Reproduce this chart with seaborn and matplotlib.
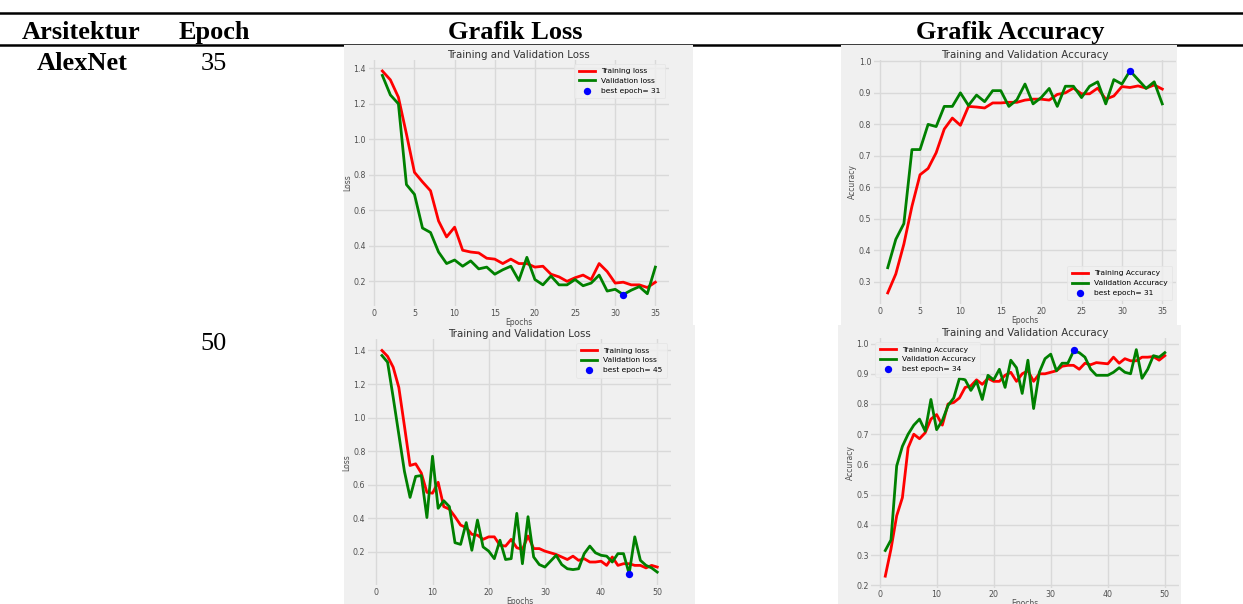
import matplotlib
matplotlib.use("Agg")
import matplotlib.pyplot as plt
import seaborn as sb
from matplotlib.patches import Rectangle
from matplotlib.lines import Line2D

# data
epochs35 = list(range(1, 36))
tr_loss35 = [1.385, 1.335, 1.237, 1.03, 0.814, 0.76, 0.71, 0.54, 0.45, 0.505,
             0.375, 0.365, 0.36, 0.33, 0.325, 0.30, 0.325, 0.30, 0.30, 0.28,
             0.285, 0.24, 0.225, 0.20, 0.22, 0.235, 0.21, 0.30, 0.255, 0.19,
             0.195, 0.18, 0.18, 0.165, 0.195]
val_loss35 = [1.36, 1.25, 1.20, 0.745, 0.69, 0.50, 0.475, 0.365, 0.30, 0.32,
              0.285, 0.315, 0.27, 0.28, 0.24, 0.265, 0.285, 0.205, 0.335, 0.21,
              0.18, 0.23, 0.18, 0.18, 0.21, 0.175, 0.19, 0.235, 0.145, 0.155,
              0.125, 0.15, 0.17, 0.13, 0.28]
tr_acc35 = [0.265, 0.325, 0.42, 0.54, 0.64, 0.66, 0.71, 0.785, 0.82, 0.797,
            0.857, 0.855, 0.852, 0.868, 0.868, 0.87, 0.87, 0.877, 0.88, 0.88,
            0.877, 0.895, 0.90, 0.915, 0.897, 0.897, 0.915, 0.88, 0.89, 0.92,
            0.917, 0.922, 0.915, 0.925, 0.912]
val_acc35 = [0.345, 0.435, 0.485, 0.72, 0.72, 0.80, 0.793, 0.857, 0.857, 0.90,
             0.86, 0.893, 0.872, 0.907, 0.907, 0.857, 0.878, 0.928, 0.865, 0.885,
             0.914, 0.857, 0.921, 0.921, 0.885, 0.921, 0.935, 0.865, 0.942, 0.928,
             0.97, 0.942, 0.914, 0.935, 0.865]

epochs50 = list(range(1, 51))
tr_loss50 = [1.40, 1.365, 1.30, 1.18, 0.95, 0.715, 0.725, 0.67, 0.555, 0.55,
             0.615, 0.47, 0.455, 0.41, 0.36, 0.345, 0.305, 0.30, 0.275, 0.29,
             0.29, 0.24, 0.235, 0.275, 0.225, 0.215, 0.295, 0.22, 0.22, 0.205,
             0.195, 0.185, 0.17, 0.155, 0.175, 0.15, 0.16, 0.14, 0.14, 0.145,
             0.12, 0.17, 0.12, 0.13, 0.13, 0.12, 0.12, 0.105, 0.12, 0.11]
val_loss50 = [1.37, 1.33, 1.12, 0.90, 0.68, 0.525, 0.65, 0.655, 0.405, 0.77,
              0.46, 0.505, 0.47, 0.255, 0.245, 0.375, 0.21, 0.39, 0.23, 0.205,
              0.16, 0.27, 0.155, 0.16, 0.43, 0.13, 0.41, 0.17, 0.125, 0.11,
              0.145, 0.18, 0.125, 0.10, 0.095, 0.10, 0.19, 0.235, 0.195, 0.18,
              0.175, 0.14, 0.19, 0.19, 0.07, 0.29, 0.15, 0.12, 0.105, 0.08]
tr_acc50 = [0.23, 0.32, 0.43, 0.49, 0.655, 0.70, 0.685, 0.705, 0.75, 0.765,
            0.73, 0.80, 0.805, 0.82, 0.855, 0.86, 0.88, 0.865, 0.885, 0.875,
            0.875, 0.895, 0.905, 0.875, 0.90, 0.91, 0.875, 0.90, 0.90, 0.905,
            0.91, 0.925, 0.928, 0.928, 0.915, 0.935, 0.93, 0.937, 0.935, 0.933,
            0.955, 0.935, 0.95, 0.943, 0.943, 0.955, 0.955, 0.957, 0.945, 0.96]
val_acc50 = [0.315, 0.35, 0.595, 0.66, 0.70, 0.73, 0.75, 0.71, 0.815, 0.715,
             0.745, 0.795, 0.82, 0.885, 0.88, 0.845, 0.875, 0.815, 0.895, 0.88,
             0.915, 0.855, 0.945, 0.92, 0.835, 0.945, 0.785, 0.905, 0.95, 0.965,
             0.91, 0.935, 0.935, 0.975, 0.97, 0.955, 0.915, 0.895, 0.895, 0.895,
             0.905, 0.92, 0.905, 0.90, 0.98, 0.885, 0.915, 0.96, 0.955, 0.97]

best_loss35 = (31, 0.125)
best_acc35 = (31, 0.97)
best_loss50 = (45, 0.068)
best_acc50 = (34, 0.978)

header = ["Arsitektur", "Epoch", "Grafik Loss", "Grafik Accuracy"]
arsitektur = "AlexNet"
epoch_rows = ["35", "50"]

W, H = 1243, 604
fig = plt.figure(figsize=(W / 100, H / 100), dpi=100, facecolor="white")

def fx(x):
    return x / W

def fy(y):
    return 1 - y / H

# garis tabel
fig.add_artist(Line2D([0, 1], [fy(13), fy(13)], color="black", lw=1.8, zorder=1))
fig.add_artist(Line2D([0, 1], [fy(44.5), fy(44.5)], color="black", lw=1.8, zorder=1))

serif = "Liberation Serif"
for txt, cx in zip(header, [81, 214, 515, 1010]):
    fig.text(fx(cx), fy(39), txt, ha="center", va="baseline", family=serif,
             weight="bold", fontsize=19)
fig.text(fx(82), fy(70), arsitektur, ha="center", va="baseline", family=serif,
         weight="bold", fontsize=19)
fig.text(fx(214), fy(70), epoch_rows[0], ha="center", va="baseline", family=serif, fontsize=19)
fig.text(fx(214), fy(350), epoch_rows[1], ha="center", va="baseline", family=serif, fontsize=19)

# panel abu-abu (gambar grafik)
for x0, x1, y0, y1 in [(344, 693, 45, 325), (841, 1177, 45, 325),
                       (344, 695, 325, 604), (838, 1181, 325, 604)]:
    fig.patches.append(Rectangle((fx(x0), fy(y1)), fx(x1 - x0), (y1 - y0) / H,
                                 transform=fig.transFigure, facecolor="#f0f0f0",
                                 edgecolor="none", zorder=2))

def axes_px(left, right, top, bottom):
    return fig.add_axes([fx(left), fy(bottom), fx(right - left), (bottom - top) / H], zorder=3)

def grafik(ax, ep, tr, val, best, kind, legend_loc, xticks, yticks):
    ax.set_facecolor("#f0f0f0")
    if kind == "loss":
        lab_tr, lab_val, title, ylab = "Training loss", "Validation loss", "Training and Validation Loss", "Loss"
    else:
        lab_tr, lab_val, title, ylab = "Training Accuracy", "Validation Accuracy", "Training and Validation Accuracy", "Accuracy"
    sb.lineplot(x=ep, y=tr, color="red", linewidth=2, label=lab_tr, ax=ax)
    sb.lineplot(x=ep, y=val, color="green", linewidth=2, label=lab_val, ax=ax)
    sb.scatterplot(x=[best[0]], y=[best[1]], color="blue", s=28, linewidth=0,
                   label="best epoch= %d" % best[0], ax=ax, zorder=5)
    ax.set_xticks(xticks)
    ax.set_yticks(yticks)
    ax.grid(True, color="#d9d9d9", linewidth=1.0)
    ax.set_axisbelow(True)
    for s in ax.spines.values():
        s.set_visible(False)
    ax.tick_params(length=0, pad=2, labelsize=5.7, labelcolor="#505050")
    ax.set_title(title, fontsize=7.4, color="#333333", pad=1.5)
    ax.set_xlabel("Epochs", fontsize=5.5, color="#505050", labelpad=0)
    ax.set_ylabel(ylab, fontsize=5.5, color="#505050", labelpad=1)
    leg = ax.legend(loc=legend_loc, fontsize=5.4, frameon=True, facecolor="#f0f0f0",
                    edgecolor="#e4e4e4", framealpha=0.8, handlelength=2.2,
                    borderpad=0.6, labelspacing=0.45)
    leg.get_frame().set_linewidth(0.6)

ax1 = axes_px(368.7, 669, 59.8, 305.8)
grafik(ax1, epochs35, tr_loss35, val_loss35, best_loss35, "loss", "upper right",
       [0, 5, 10, 15, 20, 25, 30, 35], [0.2, 0.4, 0.6, 0.8, 1.0, 1.2, 1.4])

ax2 = axes_px(874, 1176, 59.7, 304)
grafik(ax2, epochs35, tr_acc35, val_acc35, best_acc35, "acc", "lower right",
       [0, 5, 10, 15, 20, 25, 30, 35], [0.3, 0.4, 0.5, 0.6, 0.7, 0.8, 0.9, 1.0])

ax3 = axes_px(368.2, 671, 339.3, 585.3)
grafik(ax3, epochs50, tr_loss50, val_loss50, best_loss50, "loss", "upper right",
       [0, 10, 20, 30, 40, 50], [0.2, 0.4, 0.6, 0.8, 1.0, 1.2, 1.4])

ax4 = axes_px(871.3, 1178.8, 338.3, 587.5)
grafik(ax4, epochs50, tr_acc50, val_acc50, best_acc50, "acc", "upper left",
       [0, 10, 20, 30, 40, 50], [0.2, 0.3, 0.4, 0.5, 0.6, 0.7, 0.8, 0.9, 1.0])

fig.savefig("out.png", dpi=100, facecolor="white")
